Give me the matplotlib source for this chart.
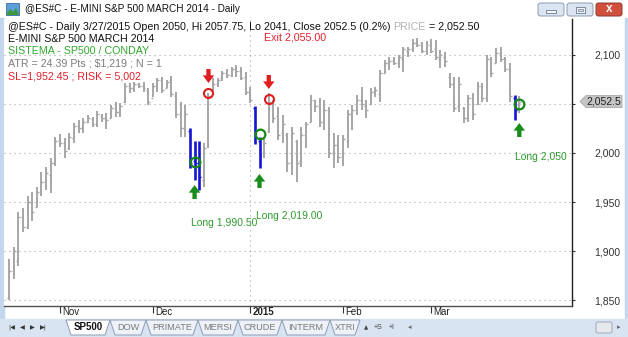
import matplotlib
matplotlib.use('Agg')
import matplotlib.pyplot as plt
import matplotlib.transforms as mtransforms
from matplotlib.patches import Rectangle, Polygon, FancyBboxPatch
from matplotlib.colors import LinearSegmentedColormap
import numpy as np

plt.rcParams['font.family'] = ['Liberation Sans', 'DejaVu Sans']

W, H = 628, 337

# ---------------- data ----------------
highs = [1891.8, 1904.4, 1939.8, 1943.9, 1956.1, 1960.5, 1965.6, 1980.6, 1985.7, 1994.9,
         2016.6, 2019.4, 2015.3, 2020.7, 2030.6, 2033.7, 2035.7, 2038.8, 2037.0, 2043.2,
         2039.8, 2040.5, 2049.0, 2052.3, 2051.0, 2071.4, 2071.7, 2072.8, 2071.4, 2072.8,
         2066.3, 2071.4, 2076.5, 2077.9, 2074.5, 2078.6, 2062.6, 2052.3, 2049.0, 2025.5,
         2012.6, 2012.6, 2010.2, 2060.9, 2076.5, 2076.5, 2084.0, 2085.4, 2088.1, 2089.8,
         2088.1, 2083.0, 2067.7, 2048.0, 2016.0, 2015.0, 2060.9, 2054.1, 2047.2, 2038.8,
         2020.1, 2026.8, 2013.3, 2026.8, 2031.9, 2059.2, 2054.1, 2055.8, 2054.1, 2047.2,
         2020.1, 2018.4, 2018.4, 2043.9, 2049.0, 2059.2, 2067.7, 2054.1, 2066.0, 2067.7,
         2084.7, 2094.9, 2098.3, 2098.3, 2100.0, 2108.5, 2108.5, 2116.0, 2117.0, 2113.6,
         2114.6, 2116.0, 2115.3, 2105.1, 2103.4, 2081.3, 2077.9, 2077.9, 2047.2, 2059.2,
         2060.9, 2072.8, 2071.1, 2100.0, 2098.3, 2106.8, 2108.5, 2098.3, 2091.5, 2059.2,
         2057.75]
lows = [1850.0, 1871.7, 1884.7, 1919.7, 1922.4, 1930.9, 1944.6, 1956.1, 1962.2, 1959.2,
        1986.7, 2006.4, 1994.9, 2003.1, 2010.5, 2020.4, 2020.7, 2030.6, 2026.8, 2026.2,
        2031.9, 2024.2, 2035.7, 2037.0, 2037.0, 2051.0, 2060.9, 2062.6, 2066.3, 2062.6,
        2049.0, 2057.4, 2062.6, 2060.9, 2066.3, 2057.4, 2035.7, 2016.0, 2016.6, 1984.7,
        1972.4, 1962.2, 1965.6, 2005.1, 2062.6, 2067.7, 2073.8, 2076.5, 2077.9, 2077.9,
        2074.5, 2059.2, 2050.7, 2008.9, 1984.4, 1994.6, 2020.1, 2030.3, 2013.3, 2009.9,
        1980.9, 1977.6, 1970.7, 1986.0, 2004.8, 2031.9, 2042.1, 2026.8, 2023.5, 1994.9,
        1984.7, 1989.8, 1986.7, 2005.1, 2023.5, 2038.8, 2043.9, 2035.4, 2049.0, 2057.4,
        2052.3, 2081.3, 2084.7, 2089.8, 2086.4, 2083.0, 2098.3, 2103.4, 2108.5, 2101.7,
        2100.0, 2101.7, 2094.9, 2086.4, 2088.1, 2066.0, 2042.1, 2042.1, 2030.3, 2031.9,
        2033.7, 2049.0, 2052.3, 2052.3, 2077.9, 2091.5, 2093.2, 2083.0, 2052.3, 2033.7,
        2041.0]
opens = [1852, 1880, 1890, 1935, 1925, 1950, 1945, 1958, 1970, 1978,
         1990, 2012, 2010, 2005, 2015, 2028, 2026, 2032, 2035, 2030,
         2038, 2036, 2036, 2046, 2042, 2052, 2068, 2066, 2070, 2068,
         2064, 2056, 2068, 2074, 2066, 2074, 2058, 2040, 2026, 2022,
         1992, 1990, 1972, 2008, 2064, 2070, 2076, 2082, 2080, 2086,
         2084, 2078, 2062, 2046, 2012, 2000, 2022, 2050, 2038, 2020,
         2018, 1990, 2012, 1992, 2018, 2032, 2054, 2048, 2032, 2044,
         2000, 2008, 1996, 2012, 2040, 2044, 2054, 2048, 2050, 2062,
         2060, 2082, 2092, 2094, 2092, 2096, 2104, 2106, 2112, 2110,
         2104, 2110, 2106, 2096, 2098, 2078, 2070, 2048, 2046, 2036,
         2056, 2050, 2068, 2056, 2096, 2092, 2102, 2096, 2086, 2056,
         2050]
closes = [1880, 1900, 1935, 1925, 1950, 1940, 1960, 1970, 1980, 1990,
          2012, 2010, 2002, 2016, 2028, 2026, 2032, 2036, 2030, 2040,
          2036, 2034, 2046, 2042, 2048, 2068, 2066, 2070, 2068, 2066,
          2052, 2068, 2074, 2064, 2072, 2060, 2040, 2026, 2040, 1990,
          1990, 1975, 2005, 2058, 2070, 2074, 2082, 2080, 2086, 2084,
          2076, 2062, 2054, 2016, 1998, 2010, 2052, 2036, 2018, 2030,
          1990, 2020, 1990, 2018, 2030, 2054, 2048, 2032, 2044, 2000,
          2008, 1996, 2014, 2040, 2044, 2054, 2050, 2044, 2062, 2064,
          2082, 2092, 2094, 2092, 2098, 2106, 2106, 2112, 2110, 2104,
          2110, 2104, 2098, 2100, 2094, 2070, 2046, 2070, 2036, 2056,
          2040, 2068, 2056, 2096, 2082, 2102, 2096, 2086, 2058, 2044,
          2052.5]
blue_bars = [39, 40, 41, 53, 54, 109]

entry_bars = [40, 54, 110]
entry_prices = [1990.5, 2019.0, 2050.0]
entry_arrow_tips = [1967.3, 1978.6, 2030.6]
entry_label_prices = [1929.0, 1936.0, 1996.0]
entry_labels = ['Long 1,990.50', 'Long 2,019.00', 'Long 2,050']

exit_bars = [43, 56]
exit_prices = [2061.0, 2055.0]
exit_arrow_tips = [2071.4, 2065.3]

month_idx = [11, 31, 52, 72, 91]
month_labels = ['Nov', 'Dec', '2015', 'Feb', 'Mar']
price_ticks = [1850, 1900, 1950, 2000, 2050, 2100]
price_labels = ['1,850', '1,900', '1,950', '2,000', '', '2,100']
last_price = 2052.5
last_label = '2,052.5'
year_break = 52

# ---------------- figure ----------------
fig = plt.figure(figsize=(W / 100, H / 100), dpi=100)

bg = fig.add_axes([0, 0, 1, 1], zorder=0)
bg.axis('off')
bg.add_patch(Rectangle((0, 0), W, H, color='white'))
cm = LinearSegmentedColormap.from_list('t', ['#dfeaf7', '#c3d7ee'])
bg.imshow(np.linspace(0, 1, 20).reshape(-1, 1), cmap=cm, extent=(0, W, 18, 0), aspect='auto')
bg.add_patch(Rectangle((0, 18), 4, 302, color='#c3d7ee'))
bg.add_patch(Rectangle((625, 18), 3, 302, color='#c3d7ee'))
bg.add_patch(Rectangle((0, 319), W, 18, color='#d8e4f2'))
bg.set_xlim(0, W)
bg.set_ylim(H, 0)

# main price axes
left_px, right_px, top_px, bot_px = 4, 572, 19, 306
ax = fig.add_axes([left_px / W, 1 - bot_px / H, (right_px - left_px) / W, (bot_px - top_px) / H], zorder=1)
ax.set_facecolor('white')
ax.set_xlim(-1.078, 121.36)
ax.set_ylim(1843.9, 2136.7)

x = np.arange(len(highs))
colors = ['#1414d2' if i in blue_bars else '#a6a6a6' for i in x]
lws = [1.9 if i in blue_bars else 1.4 for i in x]
ax.vlines(x, lows, highs, colors=colors, linewidths=lws, zorder=3)
ax.hlines(opens, x - 0.42, x, colors=colors, linewidths=1.0, zorder=3)
ax.hlines(closes, x, x + 0.42, colors=colors, linewidths=1.0, zorder=3)

# grid
ax.set_yticks(price_ticks)
ax.set_yticklabels(price_labels)
ax.grid(axis='y', linestyle=(0, (1, 3.5)), color='#a8a8a8', linewidth=0.8, zorder=0)
ax.axvline(year_break, linestyle=(0, (1, 3.5)), color='#a8a8a8', linewidth=0.8, zorder=0)

for s in ['top', 'left']:
    ax.spines[s].set_visible(False)
ax.spines['right'].set_color('#202020')
ax.spines['bottom'].set_color('#505050')
ax.spines['right'].set_linewidth(1.0)
ax.spines['bottom'].set_linewidth(1.0)
ax.yaxis.tick_right()
ax.tick_params(axis='y', direction='out', length=2.5, width=0.8, pad=13.5,
               labelsize=7.5, labelcolor='#333333', colors='#333333')
ax.set_xticks(month_idx)
ax.set_xticklabels([''] * len(month_idx))
ax.tick_params(axis='x', direction='out', length=5, width=0.8, colors='#333333')
xtrans = mtransforms.blended_transform_factory(ax.transData, ax.transAxes)
for xi, lab in zip(month_idx, month_labels):
    off = mtransforms.ScaledTranslation(2 / 100, -1 / 100, fig.dpi_scale_trans)
    ax.text(xi, 0, lab, transform=xtrans + off, ha='left', va='top',
            fontsize=7, color='#222222', clip_on=False,
            fontweight='bold' if lab == '2015' else 'normal')

# signals
ax.plot(entry_bars, entry_prices, 'o', ms=7, mfc='none', mec='#158a15', mew=1.6, zorder=5)
ax.plot(exit_bars, exit_prices, 'o', ms=6.5, mfc='none', mec='#e01e1e', mew=1.5, zorder=5)
astyle = 'simple,head_length=0.5,head_width=0.75,tail_width=0.28'
for b, tip in zip(entry_bars, entry_arrow_tips):
    ax.annotate('', xy=(b, tip), xytext=(0, -14), textcoords='offset pixels',
                arrowprops=dict(arrowstyle=astyle, fc='#1a8c1a', ec='#1a8c1a', lw=0,
                                mutation_scale=11, shrinkA=0, shrinkB=0), zorder=6)
for b, tip in zip(exit_bars, exit_arrow_tips):
    ax.annotate('', xy=(b, tip), xytext=(0, 14), textcoords='offset pixels',
                arrowprops=dict(arrowstyle=astyle, fc='#e01e1e', ec='#e01e1e', lw=0,
                                mutation_scale=11, shrinkA=0, shrinkB=0), zorder=6)
for b, lp, lab in zip(entry_bars, entry_label_prices, entry_labels):
    off = mtransforms.ScaledTranslation(-4 / 100, 0, fig.dpi_scale_trans)
    ax.text(b, lp, lab, transform=ax.transData + off, ha='left', va='center',
            fontsize=7.5, color='#2e9a2e', zorder=6, clip_on=False)

# last price marker
mtrans = mtransforms.blended_transform_factory(ax.transAxes, ax.transData)
def axf(px):
    return (px - left_px) / (right_px - left_px)
hh = 6.1
ax.add_patch(Polygon([(axf(580), last_price), (axf(586), last_price + hh), (axf(622), last_price + hh),
                      (axf(622), last_price - hh), (axf(586), last_price - hh)],
                     closed=True, transform=mtrans, clip_on=False, fc='#c4c4c4', ec='#a8a8a8',
                     lw=0.6, zorder=7))
ax.text(axf(604), last_price, last_label, transform=mtrans, ha='center', va='center',
        fontsize=7.5, color='#222222', clip_on=False, zorder=8)

# ---------------- overlay (texts, chrome) ----------------
ov = fig.add_axes([0, 0, 1, 1], zorder=3)
ov.set_xlim(0, W)
ov.set_ylim(H, 0)
ov.axis('off')
ov.patch.set_alpha(0)

# title bar
ov.add_patch(Rectangle((6, 3), 13, 12, fc='#5a9fd8', ec='#3a6ea0', lw=0.6))
ov.add_patch(Polygon([(6, 15), (10, 9), (13, 12), (16, 8), (19, 15)], closed=True, fc='#3c9a3c', lw=0))
ov.text(25, 9.5, '@ES#C - E-MINI S&P 500 MARCH 2014 - Daily', fontsize=7.2, va='center',
        ha='left', color='#111111')
for bx, fc, ec in [(538, '#dbe5f1', '#8a9bb3'), (567, '#dbe5f1', '#8a9bb3'), (596, '#d0503c', '#8a3a30')]:
    ov.add_patch(FancyBboxPatch((bx, 3), 26, 13, boxstyle='round,pad=0,rounding_size=2.5',
                                fc=fc, ec=ec, lw=0.7))
ov.add_patch(Rectangle((546, 10), 10, 2.5, fc='#f4f6f9', ec='#6a7a90', lw=0.6))
ov.add_patch(Rectangle((575.5, 6.5), 9, 6.5, fc='#f4f6f9', ec='#6a7a90', lw=0.6))
ov.add_patch(Rectangle((577.5, 8.5), 5, 2.5, fc='#dbe5f1', ec='#6a7a90', lw=0.5))
ov.text(609, 9.5, 'x', fontsize=8.5, fontweight='bold', color='white', ha='center', va='center')

# header lines
fs = 7.65
t1 = ov.text(8, 26.5, '@ES#C - Daily 3/27/2015 Open 2050, Hi 2057.75, Lo 2041, Close 2052.5 (0.2%)',
             fontsize=fs, va='center', ha='left', color='#111111')
fig.canvas.draw()
r = fig.canvas.get_renderer()
x1 = t1.get_window_extent(r).x1 + 3
t2 = ov.text(x1, 26.5, 'PRICE', fontsize=fs, va='center', ha='left', color='#b4b4b4')
x2 = t2.get_window_extent(r).x1 + 3
ov.text(x2, 26.5, '= 2,052.50', fontsize=fs, va='center', ha='left', color='#111111')
ov.text(8, 39, 'E-MINI S&P 500 MARCH 2014', fontsize=fs, va='center', ha='left', color='#111111')
ov.text(8, 51.5, 'SISTEMA - SP500 / CONDAY', fontsize=fs, va='center', ha='left', color='#2eaa2e')
ov.text(8, 63.5, 'ATR = 24.39 Pts ; $1,219 ; N = 1', fontsize=fs, va='center', ha='left', color='#7c7c7c')
ov.text(8, 76.5, 'SL=1,952.45 ; RISK = 5,002', fontsize=fs, va='center', ha='left', color='#e0202c')
ov.text(264, 37.5, 'Exit 2,055.00', fontsize=fs, va='center', ha='left', color='#e0202c')

# bottom tab bar
for tx, g in [(8, '|\u25C0'), (20, '\u25C0'), (30, '\u25B6'), (40, '\u25B6|')]:
    ov.text(tx, 327.5, g, fontsize=4.5, color='#333333', va='center', ha='left',
            family=['DejaVu Sans'])
tabs = [('SP500', 66, 110), ('DOW', 110, 146), ('PRIMATE', 146, 198), ('MERSI', 198, 238),
        ('CRUDE', 238, 282), ('INTERM', 282, 330), ('XTRI', 330, 360)]
for i, (lab, a, b) in enumerate(tabs):
    fc = 'white' if i == 0 else '#eef2f8'
    ov.add_patch(Polygon([(a, 320), (a + 5, 335), (b - 5, 335), (b, 320)], closed=True,
                         fc=fc, ec='#8c9cb4', lw=0.7, zorder=5 - i * 0.1 if i else 6))
    ov.text((a + b) / 2, 327.5, lab, fontsize=7 if i == 0 else 6.6,
            fontweight='bold' if i == 0 else 'normal',
            color='#111111' if i == 0 else '#7a7a7a', ha='center', va='center', zorder=7)
ov.add_patch(Rectangle((362, 321), 46, 13, fc='#d8e4f2', ec='none', zorder=8))
ov.text(366, 327.5, '\u25B2', fontsize=4, color='#444444', ha='center', va='center', zorder=9,
        family=['DejaVu Sans'])
ov.text(378, 327.5, '+S', fontsize=5, color='#444444', ha='center', va='center', zorder=9)
ov.text(392, 327.5, '+I', fontsize=5, color='#444444', ha='center', va='center', zorder=9)
ov.text(410, 327.5, '\u25C2', fontsize=5, color='#666666', ha='center', va='center',
        family=['DejaVu Sans'], zorder=9)
ov.add_patch(FancyBboxPatch((596, 322), 16, 11, boxstyle='round,pad=0,rounding_size=2',
                            fc='#e6e9ee', ec='#a0a8b4', lw=0.7, zorder=9))
ov.text(619, 327.5, '\u25B8', fontsize=5, color='#666666', ha='center', va='center',
        family=['DejaVu Sans'], zorder=9)

fig.savefig('out.png', dpi=100)
